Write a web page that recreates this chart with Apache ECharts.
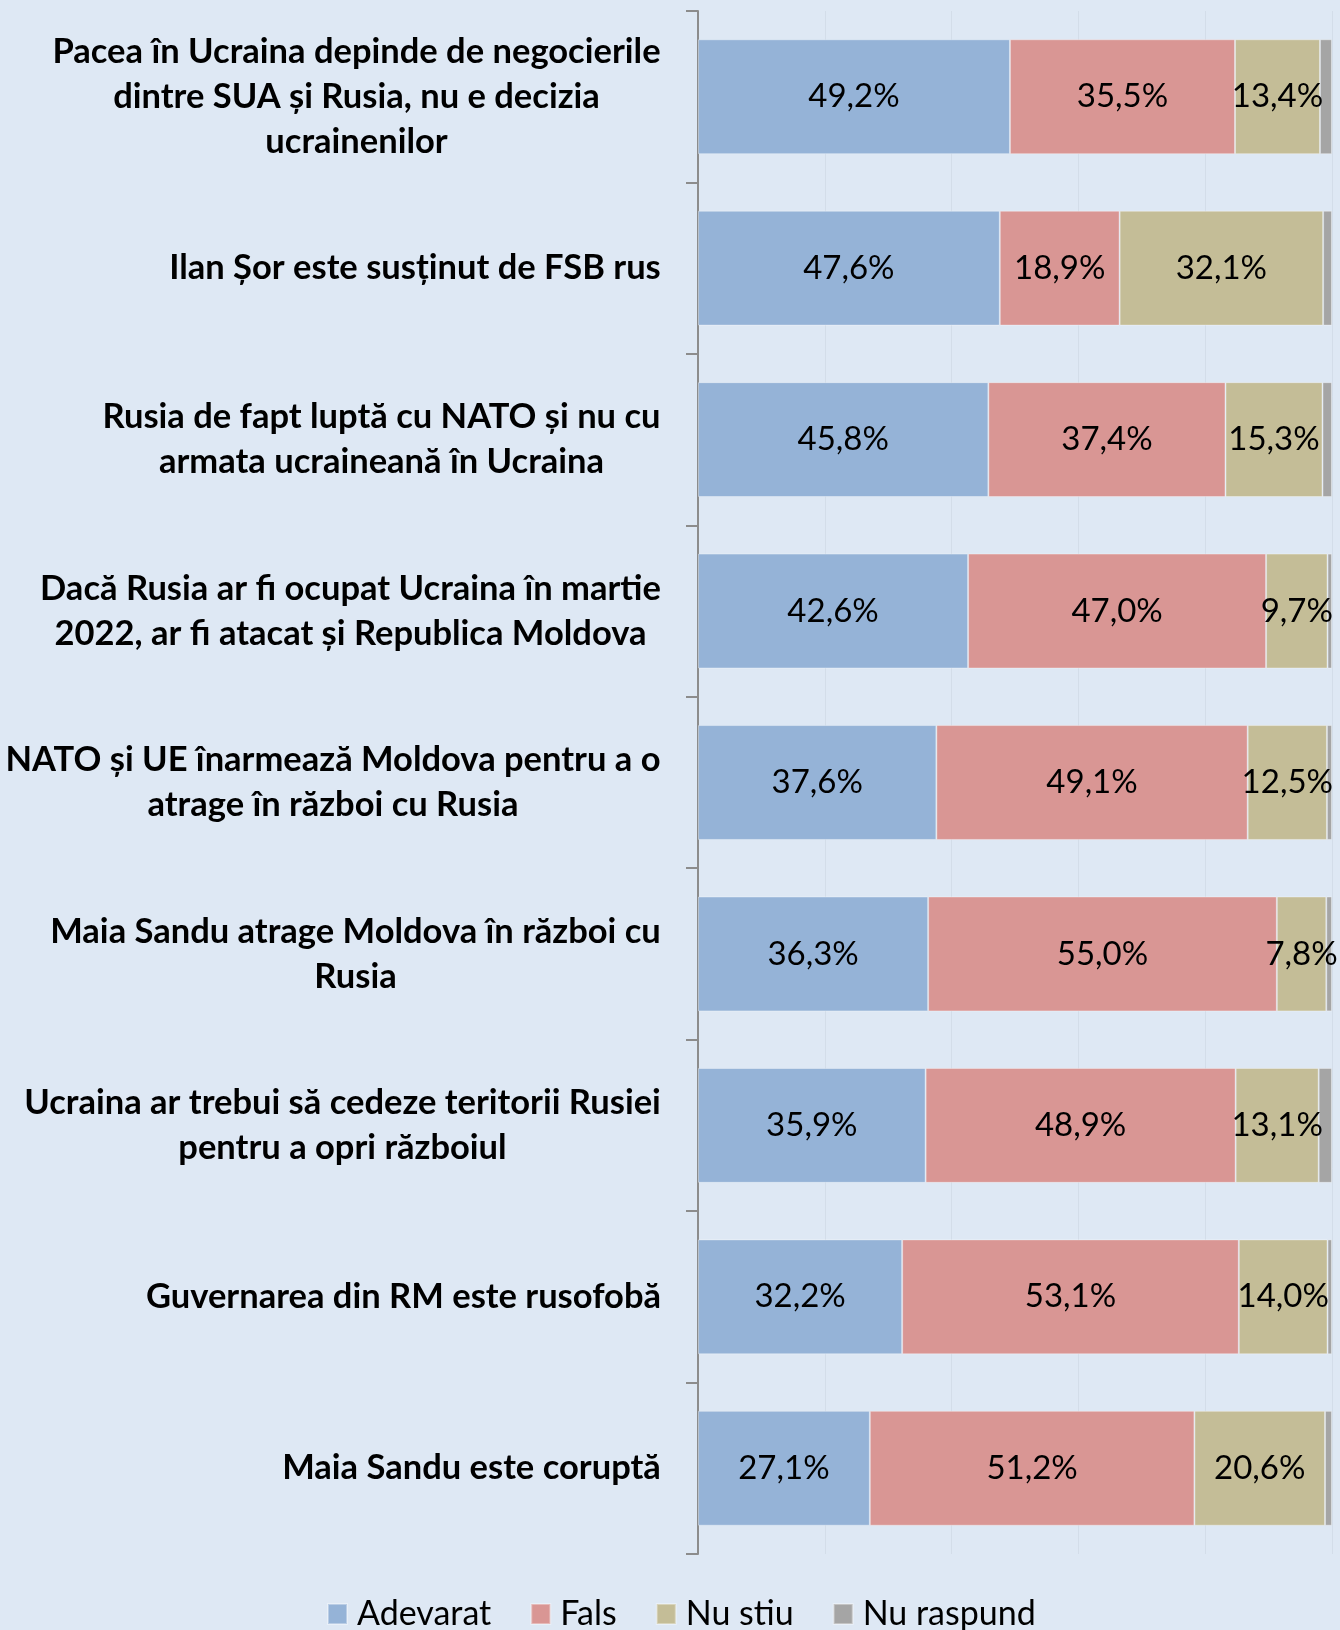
<!DOCTYPE html>
<html>
<head>
<meta charset="utf-8">
<script src="https://cdn.jsdelivr.net/npm/echarts@6/dist/echarts.min.js"></script>
<style>
  html, body { margin: 0; padding: 0; background: #dee8f4; }
  #chart { width: 1340px; height: 1630px; }
</style>
</head>
<body>
<div id="chart"></div>
<script>
// categories, top to bottom
const categories = [
  "Pacea în Ucraina depinde de negocierile\ndintre SUA și Rusia, nu e decizia\nucrainenilor",
  "Ilan Șor este susținut de FSB rus",
  "Rusia de fapt luptă cu NATO și nu cu\narmata ucraineană în Ucraina",
  "Dacă Rusia ar fi ocupat Ucraina în martie\n2022, ar fi atacat și Republica Moldova",
  "NATO și UE înarmează Moldova pentru a o\natrage în război cu Rusia",
  "Maia Sandu atrage Moldova în război cu\nRusia",
  "Ucraina ar trebui să cedeze teritorii Rusiei\npentru a opri războiul",
  "Guvernarea din RM este rusofobă",
  "Maia Sandu este coruptă"
];

const adevarat = [49.2, 47.6, 45.8, 42.6, 37.6, 36.3, 35.9, 32.2, 27.1];
const fals = [35.5, 18.9, 37.4, 47.0, 49.1, 55.0, 48.9, 53.1, 51.2];
const nuStiu = [13.4, 32.1, 15.3, 9.7, 12.5, 7.8, 13.1, 14.0, 20.6];
const nuRaspund = [1.9, 1.4, 1.5, 0.7, 0.8, 0.9, 2.1, 0.7, 1.1];

const xTicks = [0, 20, 40, 60, 80, 100];

const chart = echarts.init(document.getElementById("chart"));

const fmt = (p) => p.value.toFixed(1).replace(".", ",") + "%";

// measure each label so the lines can be centred inside a right-aligned block
const catSize = 34.5;
const ctx = document.createElement("canvas").getContext("2d");
ctx.font = "bold " + catSize + "px Lato";
const rich = {};
categories.forEach((c, i) => {
  const w = Math.max(...c.split("\n").map((l) => ctx.measureText(l).width));
  rich["c" + i] = {
    width: Math.ceil(w) + 2,
    align: "center",
    fontFamily: "Lato",
    fontWeight: "bold",
    fontSize: catSize,
    lineHeight: 45,
    color: "#000",
  };
});

function seg(name, data, color, showLabel) {
  return {
    name: name,
    type: "bar",
    stack: "total",
    data: data,
    barCategoryGap: "33%",
    itemStyle: { color: color, borderColor: "rgba(255,255,255,0.35)", borderWidth: 1 },
    label: {
      show: showLabel,
      position: "inside",
      formatter: fmt,
      color: "#000",
      fontFamily: "Lato",
      fontSize: 33,
    },
    emphasis: { disabled: true },
  };
}

const options = {
  backgroundColor: "#dee8f4",
  animation: false,
  grid: {
    left: 698, right: 8, top: 11, bottom: 76,
    containLabel: false,
    outerBoundsMode: "none",
  },
  legend: {
    top: 1592,
    left: 322,
    itemWidth: 19,
    itemHeight: 20,
    itemGap: 39,
    icon: "rect",
    textStyle: {
      fontFamily: "Lato",
      fontSize: 34,
      color: "#000",
      padding: [0, 0, 0, 5],
    },
    data: ["Adevarat", "Fals", "Nu stiu", "Nu raspund"],
  },
  xAxis: {
    type: "value",
    min: xTicks[0],
    max: xTicks[xTicks.length - 1],
    interval: 20,
    axisLine: { show: false },
    axisTick: { show: false },
    axisLabel: { show: false },
    splitLine: { show: true, lineStyle: { color: "#d3dde9", width: 1 } },
  },
  yAxis: {
    type: "category",
    inverse: true,
    data: categories,
    axisLine: { show: true, lineStyle: { color: "#8c8c8c", width: 2 } },
    axisTick: { show: true, length: 12, lineStyle: { color: "#8c8c8c", width: 2 } },
    axisLabel: {
      margin: 36,
      align: "right",
      formatter: (v, i) =>
        v.split("\n").map((l) => "{c" + i + "|" + l + "}").join("\n"),
      rich: rich,
    },
  },
  series: [
    seg("Adevarat", adevarat, "#95b3d7", true),
    seg("Fals", fals, "#d99694", true),
    seg("Nu stiu", nuStiu, "#c4bd97", true),
    seg("Nu raspund", nuRaspund, "#a5a5a5", false),
  ],
};

chart.setOption(options);
</script>
</body>
</html>
